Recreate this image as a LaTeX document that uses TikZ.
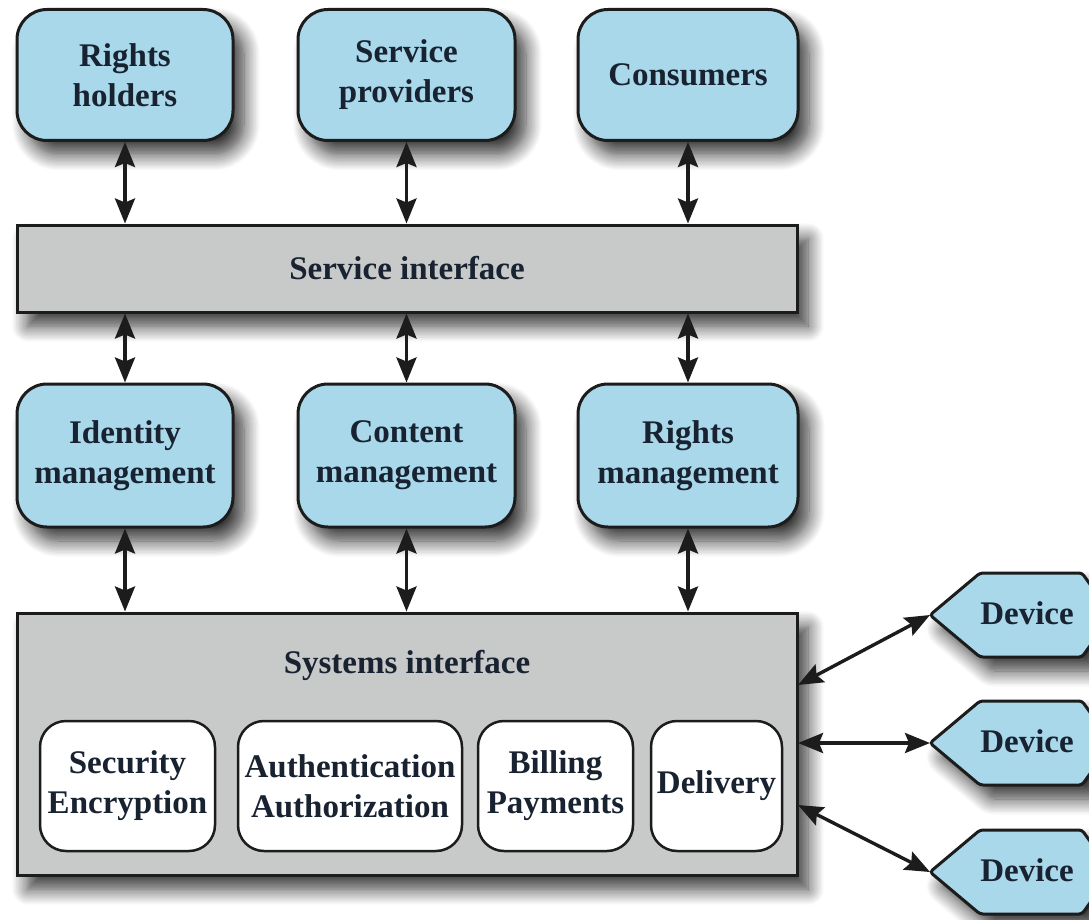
\documentclass[tikz,border=0pt]{standalone}
\usepackage{fontspec}
\setmainfont{Liberation Serif}
\usetikzlibrary{arrows.meta,shadows.blur}
\definecolor{boxblue}{RGB}{168,216,234}
\definecolor{boxgray}{RGB}{200,201,201}
\definecolor{txt}{RGB}{24,34,48}
\definecolor{edgec}{RGB}{28,28,28}
\begin{document}
\begin{tikzpicture}[x=1pt,y=1pt,
  shad/.style={blur shadow={shadow xshift=11pt,shadow yshift=-14pt,shadow blur radius=16pt,shadow blur steps=12,shadow opacity=80}},
  lbl/.style={font=\fontsize{33}{40}\selectfont\bfseries,text=txt,align=center},
  actor/.style={lbl,draw=edgec,line width=3pt,fill=boxblue,rounded corners=30pt,minimum height=131pt,shad},
  layer/.style={lbl,draw=edgec,line width=3pt,fill=boxgray,minimum width=780pt,shad},
  inner/.style={lbl,draw=edgec,line width=2.5pt,fill=white,rounded corners=26pt,minimum height=130pt,inner sep=2pt},
  device/.style={draw=edgec,line width=3pt,fill=boxblue,rounded corners=3pt,shad},
  link/.style={draw=edgec,line width=3.4pt,{Stealth[length=25pt,width=20pt,inset=4pt]}-{Stealth[length=25pt,width=20pt,inset=4pt]}}
]
\useasboundingbox (0,0) rectangle (1089,-920);
% top row
\node[actor,minimum width=216pt] (rh) at (125,-75) {Rights\\holders};
\node[actor,minimum width=217pt] (sp) at (406.5,-75) {Service\\providers};
\node[actor,minimum width=220pt] (co) at (688,-75) {Consumers};
% service interface
\node[layer,minimum height=87pt] (si) at (407,-268.5) {Service interface};
% middle row
\node[actor,minimum width=216pt,minimum height=143pt] (im) at (125,-455.5) {Identity\\management};
\node[actor,minimum width=217pt,minimum height=143pt] (cm) at (406.5,-455.5) {Content\\management};
\node[actor,minimum width=220pt,minimum height=143pt] (rm) at (688,-455.5) {Rights\\management};
% systems interface
\node[layer,minimum height=262pt] (sys) at (407,-744) {};
\node[lbl] (systitle) at (407,-665) {Systems interface};
\node[inner,minimum width=175pt] (sec) at (127.5,-786) {Security\\Encryption};
\node[inner,minimum width=224pt] (aut) at (350,-786) {Authentication\\Authorization};
\node[inner,minimum width=155pt] (bil) at (555.5,-786) {Billing\\Payments};
\node[inner,minimum width=131pt] (del) at (716.5,-786) {Delivery};
% devices
\foreach \i/\dy in {1/0,2/128,3/257}{
  \draw[device] (930,-615-\dy) -- (980,-573-\dy) -- (1082,-573-\dy) -- (1112,-615-\dy) -- (1082,-657-\dy) -- (980,-657-\dy) -- cycle;
  \coordinate (tip\i) at (930,-615-\dy);
  \node[lbl] (dev\i) at (1027,-613-\dy) {Device};
}
% vertical links
\draw[link] (rh.south) -- (rh.south |- si.north);
\draw[link] (sp.south) -- (sp.south |- si.north);
\draw[link] (co.south) -- (co.south |- si.north);
\draw[link] (im.north |- si.south) -- (im.north);
\draw[link] (cm.north |- si.south) -- (cm.north);
\draw[link] (rm.north |- si.south) -- (rm.north);
\draw[link] (im.south) -- (im.south |- sys.north);
\draw[link] (cm.south) -- (cm.south |- sys.north);
\draw[link] (rm.south) -- (rm.south |- sys.north);
% device links
\coordinate (s1) at (798,-685);
\coordinate (s2) at (798,-743);
\coordinate (s3) at (798,-805);
\draw[link] (s1) -- (tip1);
\draw[link] (s2) -- (tip2);
\draw[link] (s3) -- (tip3);
\end{tikzpicture}
\end{document}
